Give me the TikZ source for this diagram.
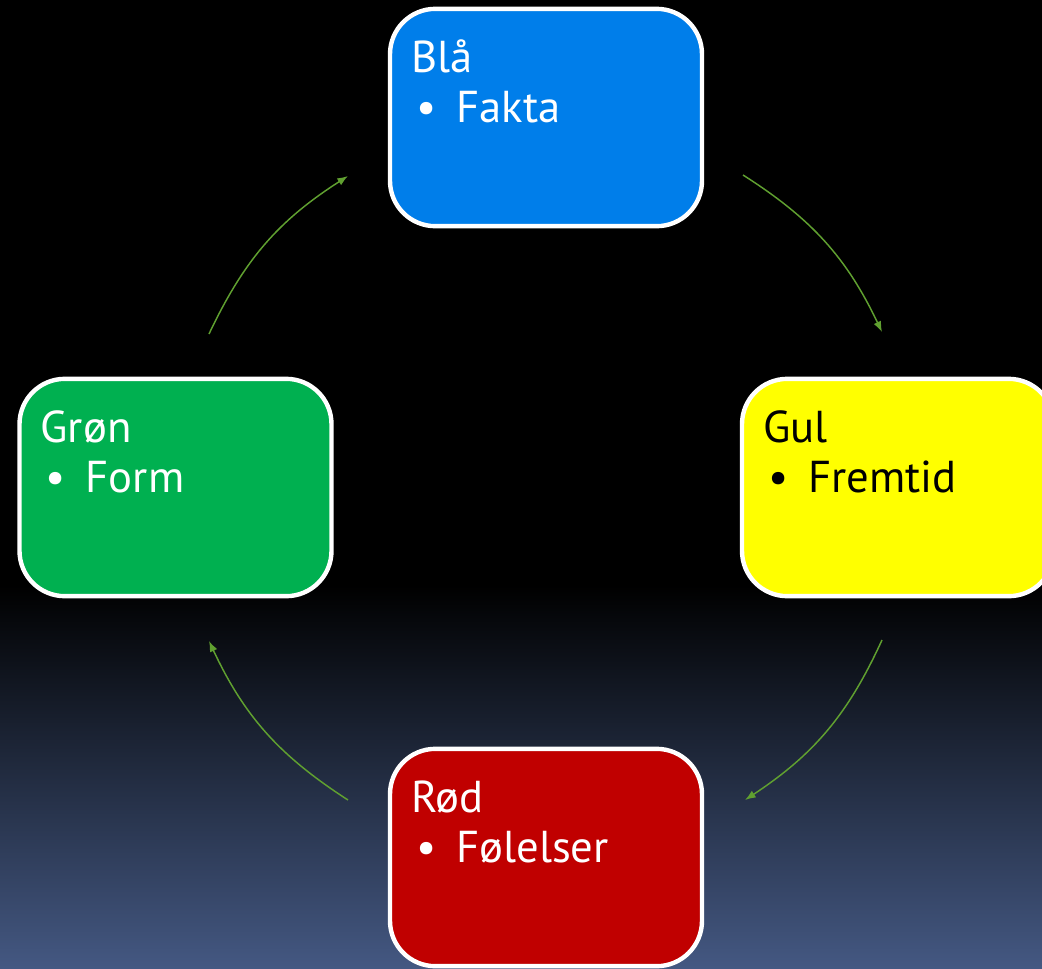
\documentclass[tikz,border=0pt]{standalone}
\usepackage{fontspec}
\setmainfont{PT Sans}
\usetikzlibrary{arrows.meta}
\definecolor{bgbot}{RGB}{68,88,130}
\definecolor{cblue}{RGB}{0,126,234}
\definecolor{cyellow}{RGB}{255,255,0}
\definecolor{cgreen}{RGB}{0,176,80}
\definecolor{cred}{RGB}{192,0,0}
\definecolor{arrowgreen}{RGB}{96,160,48}
\begin{document}
\begin{tikzpicture}[x=0.75pt,y=-0.75pt,
  box/.style={draw=white,line width=3.3pt,rounded corners=34pt,minimum width=234pt,minimum height=163pt,inner sep=0pt},
  txt/.style={anchor=base west,inner sep=0pt,font=\fontsize{33.5}{37.5}\selectfont},
  cyc/.style={draw=arrowgreen,line width=1.1pt,-{Latex[length=8pt,width=6pt]},bend left=16}]
\useasboundingbox (0,0) rectangle (1042,968);
\fill[black] (0,0) rectangle (1042,968);
\shade[top color=black,bottom color=bgbot] (0,585) rectangle (1042,968);

\node[box,fill=cblue] (bla) at (546,117.5) {};
\node[box,fill=cyellow] (gul) at (898,487.5) {};
\node[box,fill=cgreen] (gron) at (175.5,487.5) {};
\node[box,fill=cred] (rod) at (546,857.5) {};

\node[txt,text=white] (blat) at ([shift={(23,66)}]bla.north west) {Blå};
\node[txt,text=white] (blai) at ([shift={(23,116)}]bla.north west) {\makebox[34pt][l]{\hspace{4pt}\textbullet}Fakta};
\node[txt,text=black] (gult) at ([shift={(23,66)}]gul.north west) {Gul};
\node[txt,text=black] (guli) at ([shift={(23,116)}]gul.north west) {\makebox[34pt][l]{\hspace{4pt}\textbullet}Fremtid};
\node[txt,text=white] (gront) at ([shift={(23,66)}]gron.north west) {Grøn};
\node[txt,text=white] (groni) at ([shift={(23,116)}]gron.north west) {\makebox[34pt][l]{\hspace{4pt}\textbullet}Form};
\node[txt,text=white] (rodt) at ([shift={(23,66)}]rod.north west) {Rød};
\node[txt,text=white] (rodi) at ([shift={(23,116)}]rod.north west) {\makebox[34pt][l]{\hspace{4pt}\textbullet}Følelser};

\coordinate (a1) at (743,175);
\coordinate (a2) at (882,332);
\coordinate (b1) at (882,640);
\coordinate (b2) at (745,800);
\coordinate (c1) at (348,800);
\coordinate (c2) at (209,641);
\coordinate (d1) at (209,334);
\coordinate (d2) at (348,176);
\draw[cyc] (a1) to (a2);
\draw[cyc] (b1) to (b2);
\draw[cyc] (c1) to (c2);
\draw[cyc] (d1) to (d2);
\end{tikzpicture}
\end{document}
